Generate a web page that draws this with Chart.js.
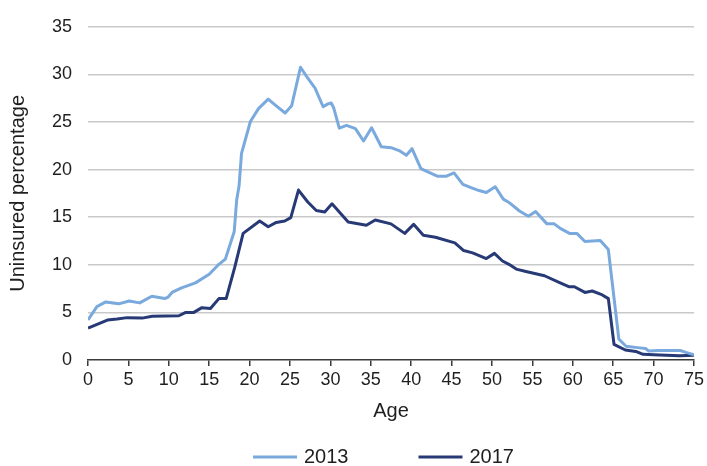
<!DOCTYPE html>
<html lang="en">
<head>
  <meta charset="UTF-8" />
  <title>Uninsured percentage by age</title>
  <script src="https://cdn.jsdelivr.net/npm/chart.js"></script>
  <style>
    html, body { margin: 0; padding: 0; background: #fff; }
    .chart-container { position: relative; width: 707px; height: 466px; }
  </style>
</head>
<body>
  <div class="chart-container">
    <canvas id="uninsuredChart"></canvas>
  </div>

  <script>
    // values (age, percent)
    const ages2013 = [0, 1.1, 2.2, 3.8, 5.1, 6.4, 7.9, 9.5, 9.9, 10.4, 11.5, 13.3, 15, 16.2, 17,
      18.1, 18.4, 18.7, 19.0, 20.1, 21.1, 22.3, 23.3, 24.4, 25.2, 26.3, 27.2, 28.1, 29.1, 29.7,
      30.1, 30.4, 31.1, 32, 33.1, 34.1, 35.1, 36.3, 37.5, 38.5, 39.4, 40.1, 41.2, 42.2, 43.3,
      44.3, 45.3, 46.4, 47.4, 48.4, 49.3, 50.4, 51.4, 52.1, 53.4, 54.5, 55.4, 56.8, 57.7, 58.5,
      59.6, 60.5, 61.5, 62.4, 63.4, 64.4, 65.7, 66.6, 68.0, 69.0, 69.4, 70.6, 72.0, 73.3, 74.0, 75];
    const values2013 = [4.2, 5.6, 6.1, 5.9, 6.2, 6.0, 6.7, 6.45, 6.6, 7.1, 7.55, 8.1, 9.0, 10.05, 10.6,
      13.5, 16.8, 18.3, 21.7, 25.05, 26.4, 27.4, 26.7, 25.95, 26.7, 30.75, 29.6, 28.55, 26.6, 26.9,
      27.0, 26.5, 24.35, 24.65, 24.3, 23.0, 24.4, 22.4, 22.3, 22.0, 21.5, 22.2, 20.1, 19.7, 19.3,
      19.3, 19.65, 18.45, 18.1, 17.8, 17.6, 18.2, 16.9, 16.55, 15.65, 15.1, 15.6, 14.3, 14.3, 13.8,
      13.3, 13.3, 12.45, 12.5, 12.55, 11.6, 2.2, 1.45, 1.3, 1.2, 0.95, 1.0, 1.0, 1.0, 0.8, 0.55];

    const ages2017 = [0, 2.4, 3.6, 4.85, 6.7, 7.95, 11.25, 12.1, 13.1, 14.1, 15.15, 16.2, 17.1, 18.15,
      19.2, 21.25, 22.3, 23.3, 24.35, 25.1, 26.05, 27.2, 28.25, 29.3, 30.2, 32.2, 34.45, 35.55,
      37.5, 39.2, 40.3, 41.5, 43.0, 45.4, 46.5, 47.6, 49.3, 50.3, 51.3, 52.1, 53.0, 54.2, 56.5,
      58.3, 59.5, 60.2, 61.5, 62.4, 63.5, 64.4, 65.1, 66.5, 67.8, 68.7, 70.0, 73.2, 75];
    const values2017 = [3.35, 4.2, 4.3, 4.45, 4.4, 4.6, 4.65, 5.0, 5.0, 5.5, 5.4, 6.45, 6.45, 9.7,
      13.3, 14.6, 14.0, 14.45, 14.6, 14.95, 17.85, 16.6, 15.7, 15.55, 16.4, 14.5, 14.15, 14.7,
      14.3, 13.3, 14.25, 13.1, 12.9, 12.3, 11.5, 11.25, 10.65, 11.2, 10.4, 10.05, 9.55, 9.3, 8.85,
      8.15, 7.7, 7.7, 7.1, 7.25, 6.9, 6.45, 1.65, 1.05, 0.9, 0.6, 0.55, 0.45, 0.5];

    const seriesLabels = ['2013', '2017'];
    const xTicks = { min: 0, max: 75, step: 5 };
    const yTicks = { min: 0, max: 35, step: 5 };

    const FONT = 'Liberation Sans, Arial, sans-serif';
    const TEXT = '#1f1f1f';

    const toPoints = (xs, ys) => xs.map((x, i) => ({ x, y: ys[i] }));

    // bottom legend drawn as line samples, spaced like the original
    const lineLegend = {
      id: 'lineLegend',
      afterDraw(chart) {
        const ctx = chart.ctx;
        const y = 457;
        let x = 253;
        ctx.save();
        ctx.font = '20px ' + FONT;
        ctx.textBaseline = 'middle';
        chart.data.datasets.forEach(ds => {
          ctx.strokeStyle = ds.borderColor;
          ctx.lineWidth = 3;
          ctx.beginPath();
          ctx.moveTo(x, y);
          ctx.lineTo(x + 44, y);
          ctx.stroke();
          ctx.fillStyle = TEXT;
          ctx.fillText(ds.label, x + 51, y);
          x += 51 + ctx.measureText(ds.label).width + 70;
        });
        ctx.restore();
      }
    };

    new Chart(document.getElementById('uninsuredChart'), {
      type: 'line',
      data: {
        datasets: [
          {
            label: seriesLabels[0],
            data: toPoints(ages2013, values2013),
            borderColor: '#79a9dd',
            backgroundColor: '#79a9dd',
            borderWidth: 3,
            pointRadius: 0,
            tension: 0,
            borderJoinStyle: 'round'
          },
          {
            label: seriesLabels[1],
            data: toPoints(ages2017, values2017),
            borderColor: '#283a76',
            backgroundColor: '#283a76',
            borderWidth: 3,
            pointRadius: 0,
            tension: 0,
            borderJoinStyle: 'round'
          }
        ]
      },
      options: {
        responsive: true,
        maintainAspectRatio: false,
        animation: false,
        layout: { padding: { top: 21, right: 12, bottom: 40, left: 0 } },
        plugins: {
          legend: { display: false },
          tooltip: { enabled: false }
        },
        scales: {
          x: {
            type: 'linear',
            min: xTicks.min,
            max: xTicks.max,
            afterFit: scale => { scale.height = 66; },
            ticks: {
              stepSize: xTicks.step,
              color: TEXT,
              padding: 3,
              maxRotation: 0,
              font: { family: FONT, size: 18 }
            },
            grid: {
              drawOnChartArea: false,
              drawTicks: true,
              tickLength: 6,
              color: '#3a3a3a',
              lineWidth: 1.5
            },
            border: { display: true, color: '#3a3a3a', width: 1.5 },
            title: {
              display: true,
              text: 'Age',
              color: TEXT,
              padding: { top: 0, bottom: 3 },
              font: { family: FONT, size: 20 }
            }
          },
          y: {
            min: yTicks.min,
            max: yTicks.max,
            afterFit: scale => { scale.width = 88; },
            ticks: {
              stepSize: yTicks.step,
              color: TEXT,
              padding: 16,
              font: { family: FONT, size: 18 }
            },
            grid: {
              drawTicks: false,
              lineWidth: 1.5,
              color: c => c.tick && c.tick.value === 0 ? 'rgba(0,0,0,0)' : '#c9c9c9'
            },
            border: { display: false },
            title: {
              display: true,
              text: 'Uninsured percentage',
              color: TEXT,
              padding: { top: 6, bottom: 0 },
              font: { family: FONT, size: 20 }
            }
          }
        }
      },
      plugins: [lineLegend]
    });
  </script>
</body>
</html>
